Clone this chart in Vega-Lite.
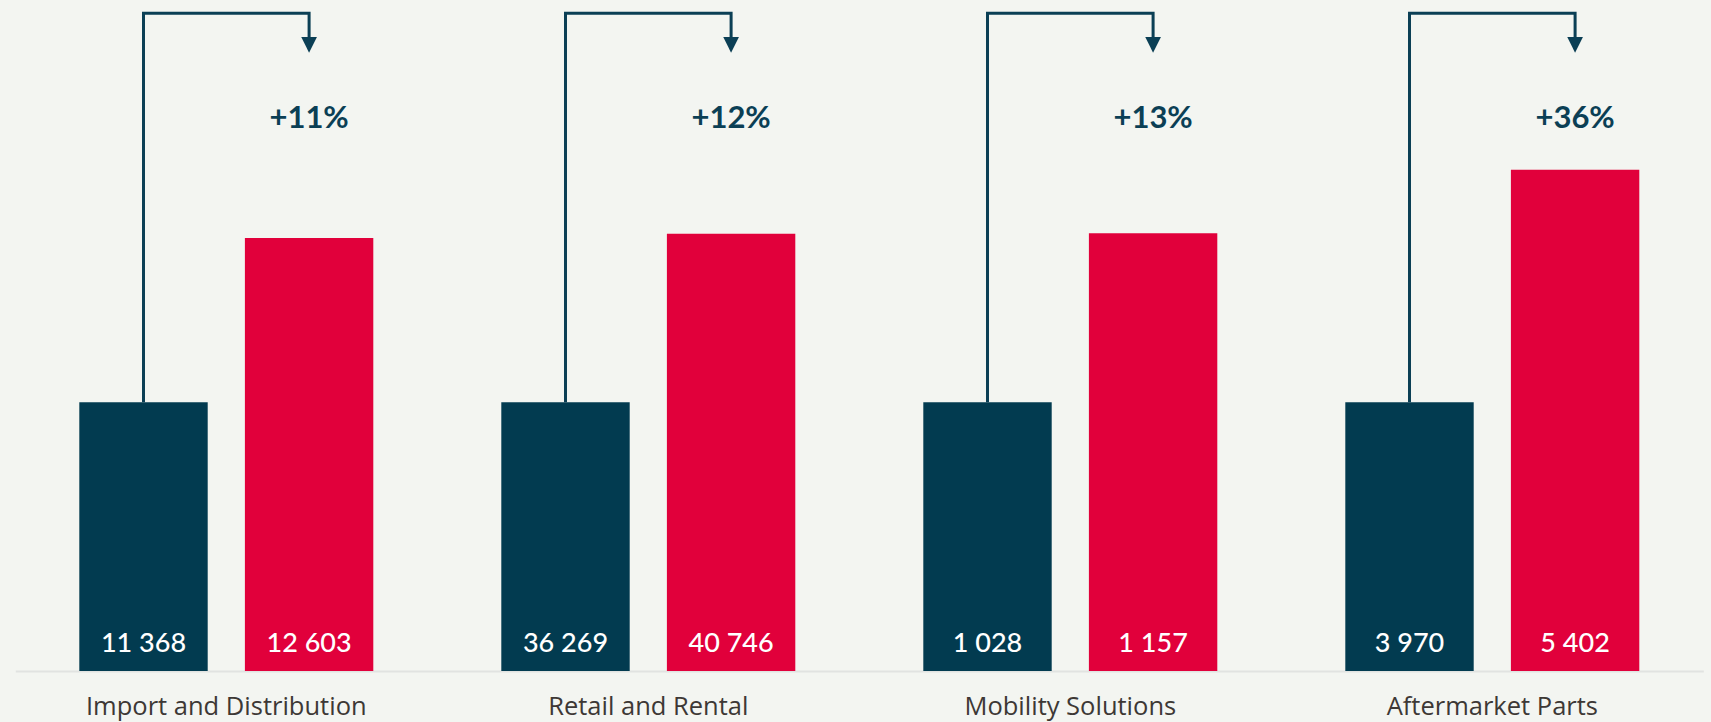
{
  "$schema": "https://vega.github.io/schema/vega-lite/v6.json",
  "width": 1711,
  "height": 671,
  "autosize": {"type": "none"},
  "padding": {"left": 0, "top": 0, "right": 0, "bottom": 51},
  "background": "#f3f5f1",
  "config": {"view": {"stroke": null}, "font": "Lato"},
  "datasets": {
    "bars": [
      {"group": "Import and Distribution", "series": "prior", "value": 11368, "label": "11 368", "idx": 100},
      {"group": "Import and Distribution", "series": "current", "value": 12603, "label": "12 603", "idx": 161.1},
      {"group": "Retail and Rental", "series": "prior", "value": 36269, "label": "36 269", "idx": 100},
      {"group": "Retail and Rental", "series": "current", "value": 40746, "label": "40 746", "idx": 162.7},
      {"group": "Mobility Solutions", "series": "prior", "value": 1028, "label": "1 028", "idx": 100},
      {"group": "Mobility Solutions", "series": "current", "value": 1157, "label": "1 157", "idx": 162.9},
      {"group": "Aftermarket Parts", "series": "prior", "value": 3970, "label": "3 970", "idx": 100},
      {"group": "Aftermarket Parts", "series": "current", "value": 5402, "label": "5 402", "idx": 186.5}
    ],
    "connector": [
      {"group": "Import and Distribution", "series": "prior", "step": 1, "idx": 100},
      {"group": "Import and Distribution", "series": "prior", "step": 2, "idx": 244.8},
      {"group": "Import and Distribution", "series": "current", "step": 3, "idx": 244.8},
      {"group": "Import and Distribution", "series": "current", "step": 4, "idx": 234},
      {"group": "Retail and Rental", "series": "prior", "step": 1, "idx": 100},
      {"group": "Retail and Rental", "series": "prior", "step": 2, "idx": 244.8},
      {"group": "Retail and Rental", "series": "current", "step": 3, "idx": 244.8},
      {"group": "Retail and Rental", "series": "current", "step": 4, "idx": 234},
      {"group": "Mobility Solutions", "series": "prior", "step": 1, "idx": 100},
      {"group": "Mobility Solutions", "series": "prior", "step": 2, "idx": 244.8},
      {"group": "Mobility Solutions", "series": "current", "step": 3, "idx": 244.8},
      {"group": "Mobility Solutions", "series": "current", "step": 4, "idx": 234},
      {"group": "Aftermarket Parts", "series": "prior", "step": 1, "idx": 100},
      {"group": "Aftermarket Parts", "series": "prior", "step": 2, "idx": 244.8},
      {"group": "Aftermarket Parts", "series": "current", "step": 3, "idx": 244.8},
      {"group": "Aftermarket Parts", "series": "current", "step": 4, "idx": 234}
    ],
    "growth": [
      {"group": "Import and Distribution", "series": "current", "pct": "+11%", "arrowIdx": 233, "textIdx": 205.5},
      {"group": "Retail and Rental", "series": "current", "pct": "+12%", "arrowIdx": 233, "textIdx": 205.5},
      {"group": "Mobility Solutions", "series": "current", "pct": "+13%", "arrowIdx": 233, "textIdx": 205.5},
      {"group": "Aftermarket Parts", "series": "current", "pct": "+36%", "arrowIdx": 233, "textIdx": 205.5}
    ]
  },
  "encoding": {
    "x": {
      "field": "group",
      "type": "nominal",
      "sort": ["Import and Distribution", "Retail and Rental", "Mobility Solutions", "Aftermarket Parts"],
      "scale": {"range": [15.3, 1703.3], "paddingInner": 0, "paddingOuter": 0},
      "axis": {
        "title": null,
        "labelAngle": 0,
        "ticks": false,
        "tickSize": 0,
        "labelPadding": 23,
        "labelLimit": 0,
        "labelFont": "Open Sans",
        "labelFontSize": 25.5,
        "labelColor": "#3d3835",
        "domainColor": "#e1e3e1",
        "domainWidth": 2,
        "grid": false
      }
    },
    "xOffset": {
      "field": "series",
      "type": "nominal",
      "sort": ["prior", "current"],
      "scale": {"paddingInner": 0.2246, "paddingOuter": 0.3865}
    }
  },
  "layer": [
    {
      "data": {"name": "bars"},
      "mark": {"type": "bar"},
      "encoding": {
        "y": {"field": "idx", "type": "quantitative", "scale": {"domain": [0, 249.7], "nice": false, "zero": true}, "axis": null},
        "color": {"field": "series", "type": "nominal", "scale": {"domain": ["prior", "current"], "range": ["#023b50", "#e1003b"]}, "legend": null}
      }
    },
    {
      "data": {"name": "bars"},
      "mark": {"type": "text", "color": "#ffffff", "font": "Lato", "fontSize": 27, "fontWeight": 500, "baseline": "middle", "align": "center"},
      "encoding": {
        "y": {"datum": 10.2, "type": "quantitative"},
        "text": {"field": "label"}
      }
    },
    {
      "data": {"name": "connector"},
      "mark": {"type": "line", "color": "#0b3f55", "strokeWidth": 3, "strokeJoin": "miter", "strokeCap": "butt"},
      "encoding": {
        "y": {"field": "idx", "type": "quantitative"},
        "detail": {"field": "group"},
        "order": {"field": "step", "type": "quantitative"}
      }
    },
    {
      "data": {"name": "growth"},
      "mark": {"type": "point", "shape": "M-1,-1L1,-1L0,1Z", "filled": true, "size": 246, "color": "#0b3f55", "opacity": 1},
      "encoding": {
        "y": {"field": "arrowIdx", "type": "quantitative"}
      }
    },
    {
      "data": {"name": "growth"},
      "mark": {"type": "text", "color": "#0b3f55", "font": "Lato", "fontSize": 31, "fontWeight": "bold", "baseline": "middle", "align": "center"},
      "encoding": {
        "y": {"field": "textIdx", "type": "quantitative"},
        "text": {"field": "pct"}
      }
    }
  ]
}
